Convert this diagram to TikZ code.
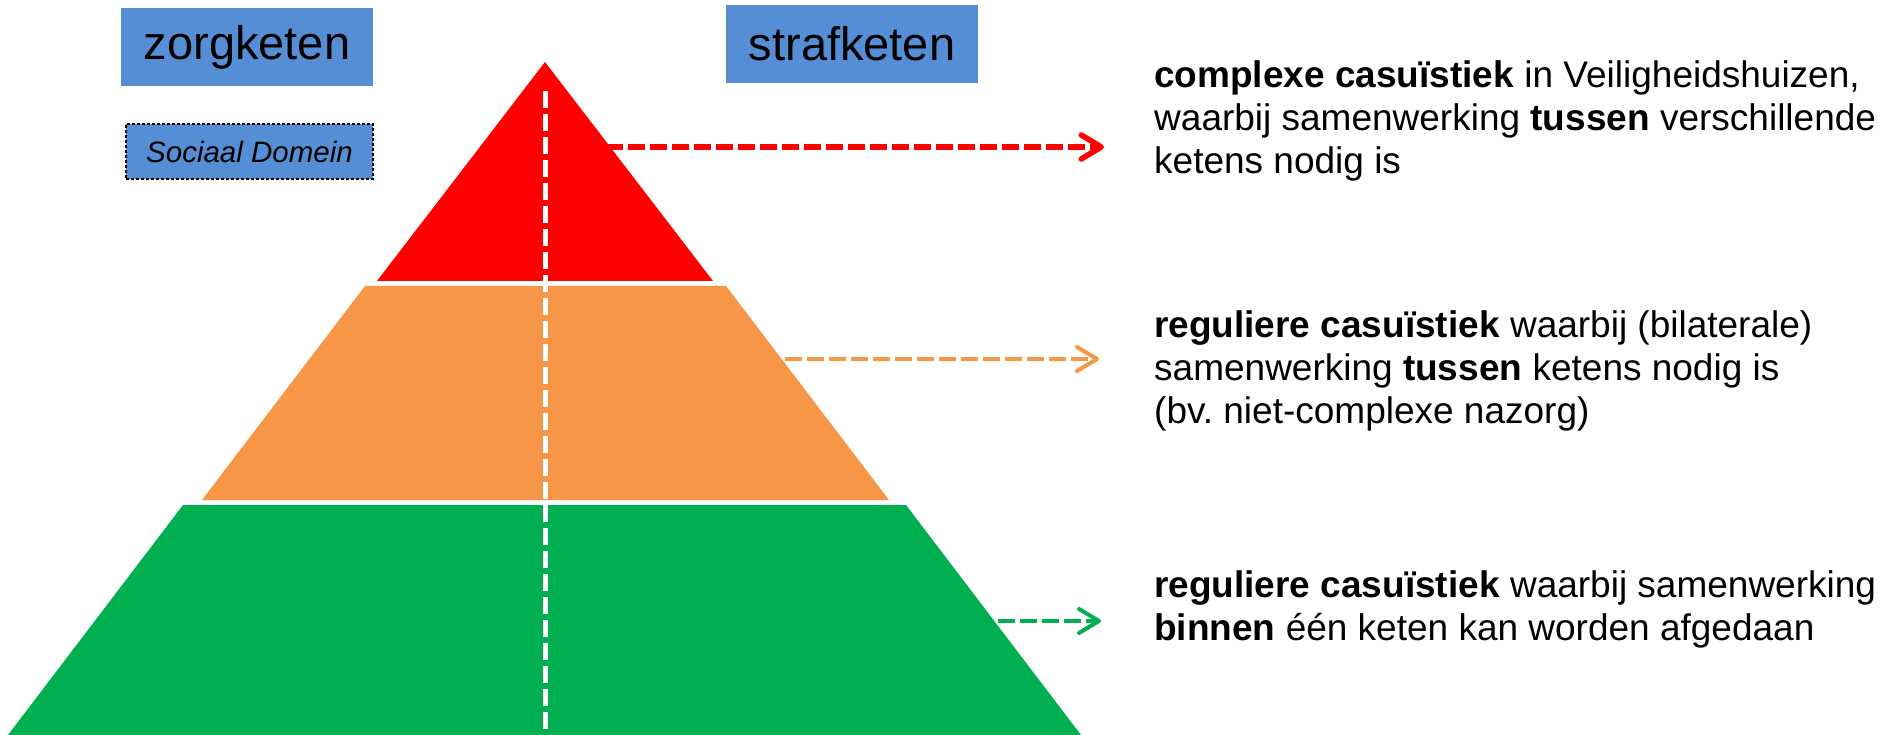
\documentclass[tikz,border=0pt]{standalone}
\usepackage{fontspec}
\setmainfont{Liberation Sans}
\usetikzlibrary{arrows.meta}
\definecolor{boxblue}{HTML}{558ED5}
\definecolor{pred}{HTML}{FF0000}
\definecolor{porange}{HTML}{F79646}
\definecolor{pgreen}{HTML}{00B050}
\frenchspacing
\begin{document}
\begin{tikzpicture}[x=1pt,y=-1pt,
  chainbox/.style={fill=boxblue, minimum width=252pt, minimum height=78pt, inner sep=0pt, font=\fontsize{47}{56}\selectfont},
  domainbox/.style={fill=boxblue, draw=black, line width=1.2pt, dash pattern=on 3pt off 2pt, minimum width=247pt, minimum height=55pt, inner sep=0pt, font=\fontsize{29.5}{35}\selectfont\itshape},
  desc/.style={anchor=north west, inner sep=0pt, align=left, font=\fontsize{37}{43}\selectfont},
  link/.style={dash pattern=on 17pt off 5pt, -{Straight Barb[length=20pt,width=24pt,round]}},
  axisline/.style={white, line width=5pt, dash pattern=on 17pt off 6pt}]
\useasboundingbox (0,0) rectangle (1887,735);
\fill[white] (0,0) rectangle (1887,735);
% pyramid layers
\fill[pred] (545,62) -- (713,281) -- (377,281) -- cycle;
\fill[porange] (365,286) -- (726,286) -- (889,500) -- (202,500) -- cycle;
\fill[pgreen] (183,505) -- (906,505) -- (1081,735) -- (8,735) -- cycle;
% central axis
\coordinate (axtop) at (545.5,91);
\coordinate (axbot) at (545.5,735);
\draw[axisline] (axtop) -- (axbot);
% header boxes
\node[chainbox] (zorg) at (247,47) {zorgketen};
\node[chainbox] (straf) at (852,44) {strafketen};
\node[domainbox] (sd) at (249.5,151.5) {Sociaal Domein};
% arrows
\coordinate (ra) at (606,147);
\coordinate (rb) at (1104,147);
\coordinate (oa) at (785,359);
\coordinate (ob) at (1099,359);
\coordinate (ga) at (998,621);
\coordinate (gb) at (1101,621);
\draw[link, pred, line width=5.5pt] (ra) -- (rb);
\draw[link, porange, line width=4pt] (oa) -- (ob);
\draw[link, pgreen, line width=4pt] (ga) -- (gb);
% descriptions
\node[desc] (t1) at (1154,56.9) {\strut\textbf{complexe casuïstiek} in Veiligheidshuizen,\\waarbij samenwerking \textbf{tussen} verschillende\\ketens nodig is};
\node[desc] (t2) at (1154,306.9) {\strut\textbf{reguliere casuïstiek} waarbij (bilaterale)\\samenwerking \textbf{tussen} ketens nodig is\\(bv. niet-complexe nazorg)};
\node[desc] (t3) at (1154,566.9) {\strut\textbf{reguliere casuïstiek} waarbij samenwerking\\\textbf{binnen} één keten kan worden afgedaan};
\end{tikzpicture}
\end{document}
